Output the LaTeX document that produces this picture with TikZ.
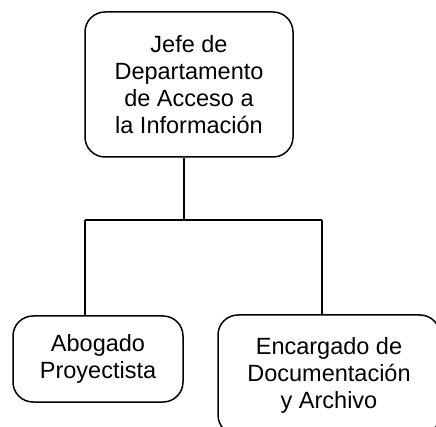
\documentclass[tikz,border=0pt]{standalone}
\usepackage{fontspec}
\setmainfont{Liberation Sans}
\begin{document}
\begin{tikzpicture}[x=1pt,y=-1pt,
  box/.style={draw,line width=1.5pt,rounded corners=20pt,align=center,inner sep=0pt,
    font=\fontsize{23.5}{27}\selectfont},
  conn/.style={line width=1.5pt}]
\useasboundingbox (0,0) rectangle (436,427);
\clip (0,0) rectangle (436,427);
\node[box,minimum width=208pt,minimum height=145pt] (jefe) at (189,84.5)
  {Jefe de\\Departamento\\de Acceso a\\la Información};
\node[box,minimum width=170pt,minimum height=86pt] (abog) at (98,359)
  {Abogado\\Proyectista};
\node[box,minimum width=222pt,minimum height=120pt] (enc) at (329,375)
  {Encargado de\\Documentación\\y Archivo};
\coordinate (j) at ([xshift=-5pt]jefe.south);
\coordinate (mid) at (184,220);
\coordinate (la) at (85,220);
\coordinate (ra) at (322,220);
\draw[conn] (j) -- (mid);
\draw[conn] (la) -- (ra);
\draw[conn] (la) -- (la |- abog.north);
\draw[conn] (ra) -- (ra |- enc.north);
\end{tikzpicture}
\end{document}
